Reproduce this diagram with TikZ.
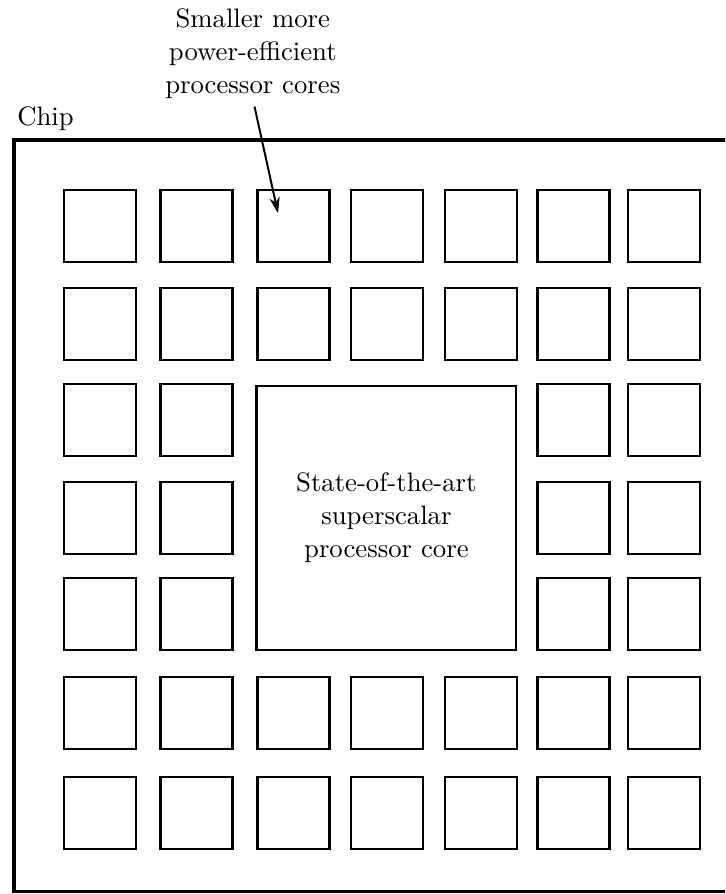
\documentclass[tikz,border=0pt]{standalone}
\usetikzlibrary{arrows.meta}
\tikzset{
  chipbox/.style={draw=black,line width=1.1pt},
  corebox/.style={draw=black,line width=1pt,inner sep=0pt,
    minimum width=0.9cm,minimum height=0.9cm},
  mainbox/.style={draw=black,line width=1pt,inner sep=0pt,align=center,
    minimum width=3.24cm,minimum height=3.3cm},
  notearrow/.style={-{Stealth[length=2mm,width=1.3mm]},line width=0.7pt},
}

\begin{document}
\begin{tikzpicture}[font=\fontsize{9.5}{11.7}\selectfont]
  \clip (0,0) rectangle (9.0625,11.175);
  \draw[chipbox] (0.175,0.03) rectangle (9.4,9.425);
  \node[anchor=base west,inner sep=0pt] (chiplabel) at (0.21,9.61) {Chip};
  \node[anchor=south,inner sep=0pt,align=center] (note) at (3.16,9.94)
    {Smaller more\\power-efficient\\processor cores};
  % small cores round the big one
  \foreach \r/\y in {1/8.35,2/7.125,6/2.2625,7/1.0125}
    \foreach \c/\x in {1/1.25,2/2.456,3/3.669,4/4.8375,5/6.0125,6/7.169,7/8.3}
      \node[corebox] (c-\r-\c) at (\x,\y) {};
  \foreach \r/\y in {3/5.925,4/4.7,5/3.5}
    \foreach \c/\x in {1/1.25,2/2.456,6/7.169,7/8.3}
      \node[corebox] (c-\r-\c) at (\x,\y) {};
  \node[mainbox] (bigcore) at (4.83,4.7)
    {State-of-the-art\\superscalar\\processor core};
  \coordinate (tip) at (3.475,8.51);
  \draw[notearrow,shorten <=1mm] (note.south) -- (tip);
\end{tikzpicture}
\end{document}
